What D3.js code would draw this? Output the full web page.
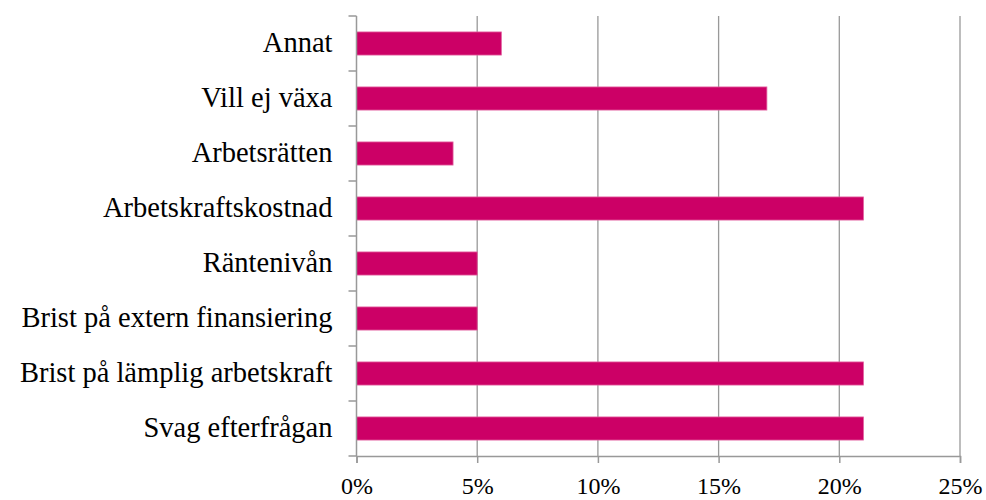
<!DOCTYPE html>
<html>
<head>
<meta charset="utf-8">
<script src="https://cdn.jsdelivr.net/npm/d3@7"></script>
<style>
  html, body { margin: 0; padding: 0; background: #fff; }
  svg { display: block; font-family: "Liberation Serif", "DejaVu Serif", serif; }
</style>
</head>
<body>
<div id="chart"></div>
<script>
// categories top to bottom, values in percent
const categories = [
    "Annat",
    "Vill ej växa",
    "Arbetsrätten",
    "Arbetskraftskostnad",
    "Räntenivån",
    "Brist på extern finansiering",
    "Brist på lämplig arbetskraft",
    "Svag efterfrågan"
];
const values = [6, 17, 4, 21, 5, 5, 21, 21];
const xTicks = [0, 5, 10, 15, 20, 25];

const width = 986, height = 500;
const margin = { top: 16, right: 26, bottom: 44, left: 356.5 };

const svg = d3.select("#chart").append("svg")
    .attr("width", width)
    .attr("height", height);

const x = d3.scaleLinear()
    .domain([0, 25])
    .range([margin.left, width - margin.right]);

const y = d3.scaleBand()
    .domain(categories)
    .range([margin.top, height - margin.bottom])
    .paddingInner(0.58)
    .paddingOuter(0.29);

const yEdges = d3.scaleBand()
    .domain(categories)
    .range([margin.top, height - margin.bottom]);

const grey = "#999";
const bottom = height - margin.bottom;

// gridlines
svg.append("g")
    .selectAll("line")
    .data(xTicks.slice(1))
    .join("line")
    .attr("x1", d => x(d)).attr("x2", d => x(d))
    .attr("y1", margin.top).attr("y2", bottom)
    .attr("stroke", grey)
    .attr("stroke-width", 1.3);

// bars
svg.append("g")
    .selectAll("rect")
    .data(categories)
    .join("rect")
    .attr("x", x(0))
    .attr("y", d => y(d))
    .attr("width", (d, i) => x(values[i]) - x(0))
    .attr("height", y.bandwidth())
    .attr("fill", "#cc0066")
    .attr("stroke", "#e2609f")
    .attr("stroke-width", 0.8);

// x axis
const xAxis = svg.append("g")
    .attr("transform", `translate(0,${bottom})`)
    .call(d3.axisBottom(x).tickValues(xTicks).tickFormat(d => d + "%").tickSize(7).tickPadding(14));
xAxis.select(".domain").attr("stroke", grey).attr("stroke-width", 1.5);
xAxis.selectAll(".tick line").attr("stroke", grey).attr("stroke-width", 1.5);
xAxis.selectAll("text")
    .attr("font-family", "Liberation Serif, serif")
    .attr("font-size", 24)
    .attr("fill", "#000");

// y axis: ticks at category boundaries
const edges = categories.map(c => yEdges(c)).concat([bottom]);
const yAxis = svg.append("g");
yAxis.append("line")
    .attr("x1", x(0)).attr("x2", x(0))
    .attr("y1", margin.top).attr("y2", bottom)
    .attr("stroke", grey).attr("stroke-width", 1.5);
yAxis.selectAll("line.tk")
    .data(edges)
    .join("line")
    .attr("class", "tk")
    .attr("x1", x(0) - 8).attr("x2", x(0))
    .attr("y1", d => d).attr("y2", d => d)
    .attr("stroke", grey).attr("stroke-width", 1.5);

yAxis.selectAll("text")
    .data(categories)
    .join("text")
    .attr("x", x(0) - 24)
    .attr("y", d => yEdges(d) + yEdges.bandwidth() / 2)
    .attr("dy", "0.3em")
    .attr("text-anchor", "end")
    .attr("font-size", 28.5)
    .attr("fill", "#000")
    .text(d => d);
</script>
</body>
</html>
